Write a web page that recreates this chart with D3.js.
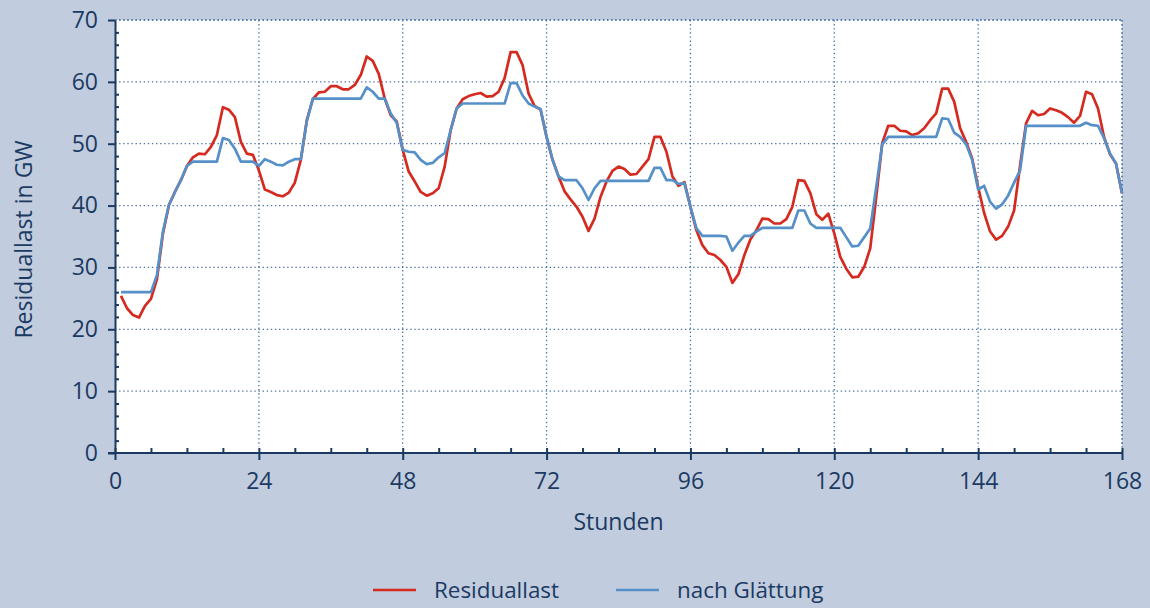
<!DOCTYPE html>
<html>
<head>
	<meta charset="utf-8">
	<title>Residuallast</title>
	<style>
		html, body { margin:0; padding:0; background:#c1ccde; }
		body { font-family: "Open Sans", "Noto Sans", sans-serif; }
		.lbl { fill:#1b3a62; font-size:23px; }
		.leg { fill:#1b3a62; font-size:22.4px; }
		.grid line { stroke:#4f76ab; stroke-width:1.3px; stroke-dasharray:1.4,2.7; }
		.axis path, .axis line { stroke:#1b3a62; stroke-width:2px; }
		.axis text { fill:#1b3a62; font-size:23px; font-family: "Open Sans", "Noto Sans", sans-serif; }
		.serie { fill:none; stroke-width:2.7px; stroke-linejoin:round; stroke-linecap:butt; }
	</style>
	<script src="https://d3js.org/d3.v7.min.js"></script>
</head>
<body>
<svg id="chart"></svg>
<script>

	//hours 1..168
	var hours = d3.range(1, 169);

	var residuallast = [
		25.4, 23.4, 22.3, 21.9, 23.8, 24.9, 28.1, 35.5, 40.1, 42.2, 44.1, 46.4,
		47.8, 48.4, 48.3, 49.5, 51.4, 55.9, 55.5, 54.3, 50.3, 48.4, 48.2, 45.7,
		42.6, 42.2, 41.7, 41.5, 42.1, 43.7, 47.4, 53.8, 57.2, 58.3, 58.4, 59.3,
		59.3, 58.8, 58.8, 59.5, 61.1, 64.1, 63.4, 61.3, 57.3, 54.6, 53.6, 49.0,
		45.5, 43.9, 42.2, 41.6, 42.0, 42.8, 46.3, 52.2, 55.7, 57.2, 57.7, 58.0,
		58.2, 57.6, 57.7, 58.4, 60.6, 64.8, 64.8, 62.7, 58.1, 56.1, 55.5, 51.1,
		47.4, 44.7, 42.3, 41.0, 39.8, 38.2, 35.9, 37.9, 41.4, 43.9, 45.6, 46.3,
		45.9, 45.0, 45.1, 46.3, 47.5, 51.1, 51.1, 48.7, 44.7, 43.2, 43.8, 39.8,
		36.0, 33.6, 32.3, 32.0, 31.2, 30.1, 27.5, 28.9, 32.0, 34.5, 36.0, 37.9,
		37.8, 37.1, 37.1, 37.8, 39.8, 44.1, 44.0, 42.0, 38.6, 37.7, 38.7, 35.5,
		31.7, 29.8, 28.4, 28.5, 30.1, 33.1, 41.4, 50.1, 52.9, 52.9, 52.1, 52.0,
		51.4, 51.7, 52.5, 53.8, 54.9, 58.9, 58.9, 56.8, 52.5, 50.3, 47.6, 43.0,
		38.8, 35.8, 34.5, 35.1, 36.6, 39.2, 46.5, 53.3, 55.3, 54.6, 54.8, 55.7,
		55.4, 55.0, 54.3, 53.4, 54.5, 58.4, 58.0, 55.7, 51.1, 48.3, 46.8, 42.0
	];

	var nachGlaettung = [
		26.0, 26.0, 26.0, 26.0, 26.0, 26.0, 28.8, 35.8, 40.1, 42.2, 44.1, 46.4,
		47.1, 47.1, 47.1, 47.1, 47.1, 50.9, 50.6, 49.2, 47.1, 47.1, 47.1, 46.4,
		47.5, 47.1, 46.6, 46.5, 47.1, 47.5, 47.5, 53.6, 57.3, 57.3, 57.3, 57.3,
		57.3, 57.3, 57.3, 57.3, 57.3, 59.1, 58.4, 57.3, 57.3, 54.9, 53.4, 49.0,
		48.7, 48.6, 47.4, 46.7, 46.9, 47.8, 48.5, 52.2, 55.7, 56.5, 56.5, 56.5,
		56.5, 56.5, 56.5, 56.5, 56.5, 59.8, 59.8, 57.8, 56.5, 56.0, 55.6, 51.1,
		47.4, 44.7, 44.1, 44.1, 44.1, 42.8, 40.9, 42.8, 44.0, 44.0, 44.0, 44.0,
		44.0, 44.0, 44.0, 44.0, 44.0, 46.1, 46.1, 44.1, 44.1, 43.5, 43.6, 39.8,
		36.3, 35.1, 35.1, 35.1, 35.1, 35.0, 32.7, 34.0, 35.1, 35.1, 35.8, 36.4,
		36.4, 36.4, 36.4, 36.4, 36.4, 39.2, 39.2, 37.1, 36.4, 36.4, 36.4, 36.4,
		36.4, 34.9, 33.4, 33.5, 34.9, 36.3, 43.0, 49.9, 51.1, 51.1, 51.1, 51.1,
		51.1, 51.1, 51.1, 51.1, 51.1, 54.1, 54.0, 51.8, 51.1, 49.9, 47.4, 42.6,
		43.2, 40.6, 39.5, 40.2, 41.6, 43.7, 45.7, 52.9, 52.9, 52.9, 52.9, 52.9,
		52.9, 52.9, 52.9, 52.9, 52.9, 53.4, 53.0, 52.9, 50.9, 48.4, 46.8, 42.0
	];

	var xTicks = [0, 24, 48, 72, 96, 120, 144, 168];
	var yTicks = [0, 10, 20, 30, 40, 50, 60, 70];
	var seriesNames = ["Residuallast", "nach Glättung"];
	var seriesColors = ["#d42a20", "#5690c8"];

	var W = 1150, H = 608,
		pLeft = 115, pRight = 1122, pTop = 20, pBottom = 453;

	var svg = d3.select("#chart").attr("width", W).attr("height", H);

	svg.append("rect").attr("width", W).attr("height", H).attr("fill", "#c1ccde");
	svg.append("rect").attr("x", pLeft).attr("y", pTop).attr("width", pRight-pLeft).attr("height", pBottom-pTop).attr("fill", "#fff");

	var x = d3.scaleLinear().domain([0, 168]).range([pLeft, pRight]);
	var y = d3.scaleLinear().domain([0, 70]).range([pBottom, pTop]);

	//grid
	var grid = svg.append("g").attr("class", "grid");
	grid.selectAll(".gh").data(yTicks.filter(function(d){ return d > 0; })).enter()
		.append("line").attr("x1", pLeft).attr("x2", pRight)
		.attr("y1", function(d){ return y(d); }).attr("y2", function(d){ return y(d); });
	grid.selectAll(".gv").data(xTicks.filter(function(d){ return d > 0; })).enter()
		.append("line").attr("y1", pTop).attr("y2", pBottom-6)
		.attr("x1", function(d){ return x(d); }).attr("x2", function(d){ return x(d); });

	//lines
	var line = d3.line().x(function(d){ return x(d[0]); }).y(function(d){ return y(d[1]); });
	[residuallast, nachGlaettung].forEach(function(s, i){
		svg.append("path").attr("class", "serie")
			.attr("stroke", seriesColors[i])
			.attr("d", line(hours.map(function(h, j){ return [h, s[j]]; })));
	});

	//x axis, minor ticks every 6h going up
	svg.append("g").attr("class", "axis")
		.attr("transform", "translate(0," + pBottom + ")")
		.call(d3.axisTop(x).tickValues(d3.range(6, 168, 6).filter(function(d){ return d % 24; })).tickSize(5).tickFormat(""))
		.select(".domain").remove();
	var xa = svg.append("g").attr("class", "axis")
		.attr("transform", "translate(0," + pBottom + ")")
		.call(d3.axisBottom(x).tickValues(xTicks).tickSize(7).tickSizeOuter(0).tickPadding(13));
	xa.select(".domain").attr("d", "M" + (pLeft-7) + ",0H" + pRight);
	xa.selectAll(".tick line").attr("y1", -5);

	//y axis, minor ticks every 2 GW going right
	svg.append("g").attr("class", "axis")
		.attr("transform", "translate(" + pLeft + ",0)")
		.call(d3.axisRight(y).tickValues(d3.range(2, 70, 2).filter(function(d){ return d % 10; })).tickSize(4).tickFormat(""))
		.select(".domain").remove();
	svg.append("g").attr("class", "axis")
		.attr("transform", "translate(" + pLeft + ",0)")
		.call(d3.axisLeft(y).tickValues(yTicks).tickSize(7).tickSizeOuter(0).tickPadding(10));

	//dotted border top/right
	grid.append("line").attr("x1", pLeft).attr("x2", pRight).attr("y1", pTop).attr("y2", pTop);
	grid.append("line").attr("x1", pRight).attr("x2", pRight).attr("y1", pTop).attr("y2", pBottom);

	//axis titles
	svg.append("text").attr("class", "lbl").attr("x", (pLeft+pRight)/2).attr("y", 530)
		.attr("text-anchor", "middle").text("Stunden");
	svg.append("text").attr("class", "lbl")
		.attr("transform", "translate(32," + ((pTop+pBottom)/2 + 3) + ") rotate(-90)")
		.attr("text-anchor", "middle").text("Residuallast in GW");

	//legend
	var lg = svg.append("g");
	var lx = [373, 616];
	seriesNames.forEach(function(n, i){
		lg.append("line").attr("x1", lx[i]).attr("x2", lx[i]+43).attr("y1", 590).attr("y2", 590)
			.attr("stroke", seriesColors[i]).attr("stroke-width", 2.6);
		lg.append("text").attr("class", "leg").attr("x", lx[i]+61).attr("y", 598).text(n);
	});

</script>
</body>
</html>
